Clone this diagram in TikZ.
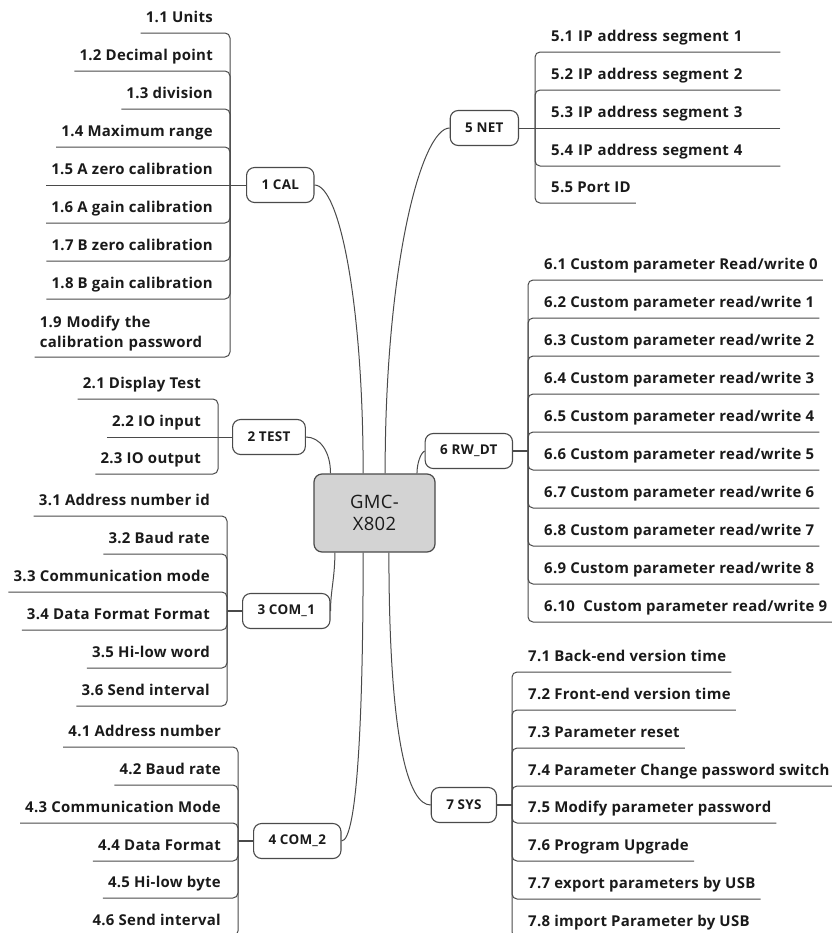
\documentclass[tikz,border=0pt]{standalone}
\usepackage{fontspec}
\setmainfont{Open Sans}[LetterSpace=2.0]
\definecolor{linegray}{HTML}{4A4A4A}
\definecolor{hubgray}{HTML}{D3D3D3}
\definecolor{inkgray}{HTML}{1A1A1A}
\begin{document}
\begin{tikzpicture}[x=1bp,y=-1bp,
  hub/.style={draw=linegray,fill=hubgray,rounded corners=8bp,line width=1.2bp,minimum width=121bp,minimum height=78bp,align=center,font=\fontsize{18.5}{22}\selectfont,text=inkgray},
  topic/.style={draw=linegray,fill=white,rounded corners=8bp,line width=1.1bp,minimum height=35bp,inner xsep=15bp,font=\bfseries\fontsize{13.5}{16}\selectfont,text=inkgray},
  leaf/.style={inner xsep=5bp,inner ysep=6bp,font=\bfseries\fontsize{15}{20}\selectfont,text=inkgray},
  leafL/.style={leaf,anchor=south east,text depth=4bp},
  leafR/.style={leaf,anchor=south west,text depth=4bp},
  link/.style={draw=linegray,line width=1bp,rounded corners=5bp},
  stem/.style={draw=linegray,line width=2bp}]
\useasboundingbox (0,0) rectangle (832,933);
\node[hub] (hub) at (374.5,513) {GMC-\\X802};
% 1 CAL
\coordinate (b1) at (230,185);
\node[topic,anchor=west] (cal) at (246,185) {1 CAL};
\node[leafL] (i11) at (218,33) {1.1 Units};
\node[leafL] (i12) at (218,71) {1.2 Decimal point};
\node[leafL] (i13) at (218,109) {1.3 division};
\node[leafL] (i14) at (218,147) {1.4 Maximum range};
\node[leafL] (i15) at (218,185) {1.5 A zero calibration};
\node[leafL] (i16) at (218,223) {1.6 A gain calibration};
\node[leafL] (i17) at (218,261) {1.7 B zero calibration};
\node[leafL] (i18) at (218,299) {1.8 B gain calibration};
\node[leaf,anchor=south east,text width=173bp,align=left] (i19) at (218,357) {1.9 Modify the\\calibration password};
\draw[link] (i11.south west) -| (b1);
\draw[link] (i12.south west) -| (b1);
\draw[link] (i13.south west) -| (b1);
\draw[link] (i14.south west) -| (b1);
\draw[link] (i15.south west) -- (cal.west);
\draw[link] (i16.south west) -| (b1);
\draw[link] (i17.south west) -| (b1);
\draw[link] (i18.south west) -| (b1);
\draw[link] (i19.south west) -| (b1);
\draw[link] (cal.east) .. controls +(25,0) and +(0,-170) .. (hub.106);
% 2 TEST
\coordinate (b2) at (218,437);
\node[topic,anchor=west] (test) at (232,437) {2 TEST};
\node[leafL] (i21) at (206,399) {2.1 Display Test};
\node[leafL] (i22) at (206,437) {2.2 IO input};
\node[leafL] (i23) at (206,474) {2.3 IO output};
\draw[link] (i21.south west) -| (b2);
\draw[link] (i22.south west) -- (test.west);
\draw[link] (i23.south west) -| (b2);
\draw[link] (test.east) .. controls +(14,0) and +(0,-22) .. (hub.138);
% 3 COM_1
\coordinate (b3) at (227,611);
\node[topic,anchor=west] (com1) at (242,611) {3 COM\_1};
\node[leafL] (i31) at (215,516) {3.1 Address number id};
\node[leafL] (i32) at (215,554) {3.2 Baud rate};
\node[leafL] (i33) at (215,592) {3.3 Communication mode};
\node[leafL] (i34) at (215,630) {3.4 Data Format Format};
\node[leafL] (i35) at (215,668) {3.5 Hi-low word};
\node[leafL] (i36) at (215,706) {3.6 Send interval};
\draw[link] (i31.south west) -| (b3);
\draw[link] (i32.south west) -| (b3);
\draw[link] (i33.south west) -| (b3);
\draw[link] (i34.south west) -| (b3);
\draw[link] (i35.south west) -| (b3);
\draw[link] (i36.south west) -| (b3);
\draw[stem] (b3) -- (com1.west);
\draw[link] (com1.east) .. controls +(0,-20) and +(0,25) .. (hub.225);
% 4 COM_2
\coordinate (b4) at (238,841);
\node[topic,anchor=west] (com2) at (253,841) {4 COM\_2};
\node[leafL] (i41) at (226,747) {4.1 Address number};
\node[leafL] (i42) at (226,785) {4.2 Baud rate};
\node[leafL] (i43) at (226,823) {4.3 Communication Mode};
\node[leafL] (i44) at (226,861) {4.4 Data Format};
\node[leafL] (i45) at (226,898) {4.5 Hi-low byte};
\node[leafL] (i46) at (226,936) {4.6 Send interval};
\draw[link] (i41.south west) -| (b4);
\draw[link] (i42.south west) -| (b4);
\draw[link] (i43.south west) -| (b4);
\draw[link] (i44.south west) -| (b4);
\draw[link] (i45.south west) -| (b4);
\draw[link] (i46.south west) -| (b4);
\draw[stem] (b4) -- (com2.west);
\draw[link] (com2.east) .. controls +(16,0) and +(0,160) .. (hub.254);
% 5 NET
\coordinate (b5) at (535,128);
\node[topic,anchor=east] (net) at (519,128) {5 NET};
\node[leafR,text width=224bp] (i51) at (546,52) {5.1 IP address segment 1};
\node[leafR,text width=224bp] (i52) at (546,90) {5.2 IP address segment 2};
\node[leafR,text width=224bp] (i53) at (546,128) {5.3 IP address segment 3};
\node[leafR,text width=224bp] (i54) at (546,166) {5.4 IP address segment 4};
\node[leafR] (i55) at (546,203) {5.5 Port ID};
\draw[link] (i51.south east) -| (b5);
\draw[link] (i52.south east) -| (b5);
\draw[link] (i53.south east) -- (net.east);
\draw[link] (i54.south east) -| (b5);
\draw[link] (i55.south east) -| (b5);
\draw[link] (net.west) .. controls +(-28,0) and +(0,-210) .. (hub.75);
% 6 RW_DT
\coordinate (b6) at (528,451);
\node[topic,anchor=east] (rw) at (513,451) {6 RW\_DT};
\node[leafR] (i61) at (539,280) {6.1 Custom parameter Read/write 0};
\node[leafR] (i62) at (539,318) {6.2 Custom parameter read/write 1};
\node[leafR] (i63) at (539,356) {6.3 Custom parameter read/write 2};
\node[leafR] (i64) at (539,394) {6.4 Custom parameter read/write 3};
\node[leafR] (i65) at (539,432) {6.5 Custom parameter read/write 4};
\node[leafR] (i66) at (539,470) {6.6 Custom parameter read/write 5};
\node[leafR] (i67) at (539,508) {6.7 Custom parameter read/write 6};
\node[leafR] (i68) at (539,546) {6.8 Custom parameter read/write 7};
\node[leafR] (i69) at (539,584) {6.9 Custom parameter read/write 8};
\node[leafR] (i610) at (539,622) {6.10 \ Custom parameter read/write 9};
\draw[link] (i61.south east) -| (b6);
\draw[link] (i62.south east) -| (b6);
\draw[link] (i63.south east) -| (b6);
\draw[link] (i64.south east) -| (b6);
\draw[link] (i65.south east) -| (b6);
\draw[link] (i66.south east) -| (b6);
\draw[link] (i67.south east) -| (b6);
\draw[link] (i68.south east) -| (b6);
\draw[link] (i69.south east) -| (b6);
\draw[link] (i610.south east) -| (b6);
\draw[stem] (b6) -- (rw.east);
\draw[link] (rw.west) .. controls +(-4,2) and +(0,-10) .. (hub.43);
% 7 SYS
\coordinate (b7) at (512,805);
\node[topic,anchor=east] (sys) at (497,805) {7 SYS};
\node[leafR] (i71) at (523,672) {7.1 Back-end version time};
\node[leafR] (i72) at (523,710) {7.2 Front-end version time};
\node[leafR] (i73) at (523,748) {7.3 Parameter reset};
\node[leafR] (i74) at (523,786) {7.4 Parameter Change password switch};
\node[leafR] (i75) at (523,823) {7.5 Modify parameter password};
\node[leafR] (i76) at (523,861) {7.6 Program Upgrade};
\node[leafR] (i77) at (523,899) {7.7 export parameters by USB};
\node[leafR] (i78) at (523,937) {7.8 import Parameter by USB};
\draw[link] (i71.south east) -| (b7);
\draw[link] (i72.south east) -| (b7);
\draw[link] (i73.south east) -| (b7);
\draw[link] (i74.south east) -| (b7);
\draw[link] (i75.south east) -| (b7);
\draw[link] (i76.south east) -| (b7);
\draw[link] (i77.south east) -| (b7);
\draw[link] (i78.south east) -| (b7);
\draw[stem] (b7) -- (sys.east);
\draw[link] (sys.west) .. controls +(-22,0) and +(0,190) .. (hub.290);
\end{tikzpicture}
\end{document}
